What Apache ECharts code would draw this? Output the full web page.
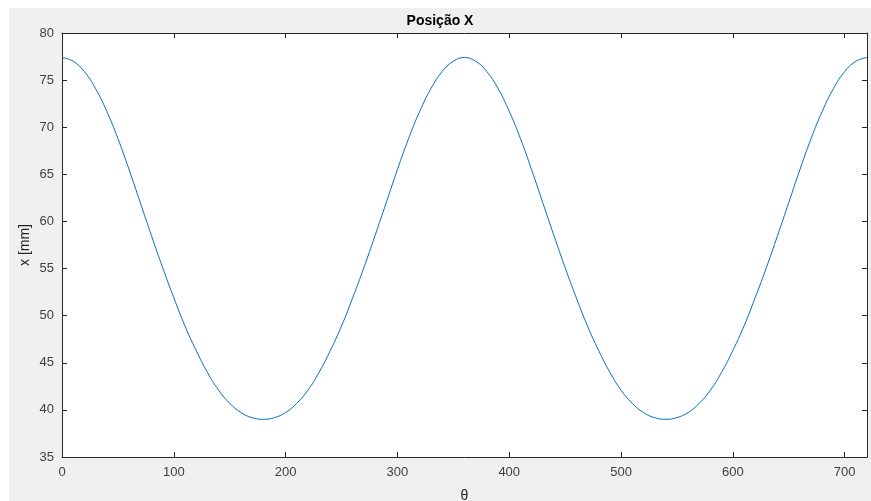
<!DOCTYPE html>
<html>
<head>
<meta charset="utf-8">
<script src="https://cdn.jsdelivr.net/npm/echarts@6/dist/echarts.min.js"></script>
<style>
  html, body { margin: 0; padding: 0; background: #fff; }
  #chart { position: absolute; left: 9px; top: 8px; width: 862px; height: 493px; background: #f0f0f0; }
</style>
</head>
<body>
<div id="chart"></div>
<script>
// theta in degrees, step 10
const theta = [
  0, 10, 20, 30, 40, 50, 60, 70, 80, 90, 100, 110, 120, 130, 140, 150, 160, 170, 180,
  190, 200, 210, 220, 230, 240, 250, 260, 270, 280, 290, 300, 310, 320, 330, 340, 350, 360,
  370, 380, 390, 400, 410, 420, 430, 440, 450, 460, 470, 480, 490, 500, 510, 520, 530, 540,
  550, 560, 570, 580, 590, 600, 610, 620, 630, 640, 650, 660, 670, 680, 690, 700, 710, 720
]
// x position [mm]
const posX = [
  77.4, 77.0, 75.9, 74.1, 71.7, 68.8, 65.5, 62.0, 58.5, 55.1, 51.9, 48.9, 46.3, 44.0, 42.1, 40.7, 39.72, 39.18, 39.0,
  39.18, 39.72, 40.7, 42.1, 44.0, 46.3, 48.9, 51.9, 55.1, 58.5, 62.0, 65.5, 68.8, 71.7, 74.1, 75.9, 77.0, 77.4,
  77.0, 75.9, 74.1, 71.7, 68.8, 65.5, 62.0, 58.5, 55.1, 51.9, 48.9, 46.3, 44.0, 42.1, 40.7, 39.72, 39.18, 39.0,
  39.18, 39.72, 40.7, 42.1, 44.0, 46.3, 48.9, 51.9, 55.1, 58.5, 62.0, 65.5, 68.8, 71.7, 74.1, 75.9, 77.0, 77.4
]
const xTicks = [0, 100, 200, 300, 400, 500, 600, 700]

const font = '"Liberation Sans", Arial, sans-serif'
const axisColor = '#262626'

function hAxis (pos, showLabel, name) {
  return {
    type: 'value', position: pos, min: 0, max: 720, interval: 100,
    name: name, nameLocation: 'middle', nameGap: 32,
    nameTextStyle: { fontFamily: font, fontSize: 14, color: '#262626' },
    axisLine: { show: true, onZero: false, lineStyle: { color: axisColor, width: 1 } },
    axisTick: { show: true, inside: true, length: 5, lineStyle: { color: axisColor } },
    axisLabel: { show: showLabel, color: '#404040', fontFamily: font, fontSize: 13, margin: 9,
      customValues: xTicks },
    splitLine: { show: false }
  }
}
function vAxis (pos, showLabel, name) {
  return {
    type: 'value', position: pos, min: 35, max: 80, interval: 5,
    name: name, nameLocation: 'middle', nameGap: 30, nameMoveOverlap: false,
    nameTextStyle: { fontFamily: font, fontSize: 14, color: '#262626' },
    axisLine: { show: true, onZero: false, lineStyle: { color: axisColor, width: 1 } },
    axisTick: { show: true, inside: true, length: 5, lineStyle: { color: axisColor } },
    axisLabel: { show: showLabel, color: '#404040', fontFamily: font, fontSize: 13, margin: 8 },
    splitLine: { show: false }
  }
}

const chart = echarts.init(document.getElementById('chart'))
chart.setOption({
  animation: false,
  title: {
    text: 'Posição X', left: 'center', top: 1,
    textStyle: { fontFamily: font, fontSize: 14, fontWeight: 'bold', color: '#000' }
  },
  grid: {
    left: 53, top: 25, right: 4, bottom: 44,
    outerBoundsMode: 'none', containLabel: false,
    show: true, backgroundColor: '#fff', borderWidth: 0
  },
  xAxis: [hAxis('bottom', true, 'θ'), hAxis('top', false, '')],
  yAxis: [vAxis('left', true, 'x [mm]'), vAxis('right', false, '')],
  series: [{
    type: 'line',
    data: theta.map((t, i) => [t, posX[i]]),
    showSymbol: false,
    smooth: 0.45,
    lineStyle: { color: '#0072BD', width: 1 }
  }]
})
</script>
</body>
</html>
